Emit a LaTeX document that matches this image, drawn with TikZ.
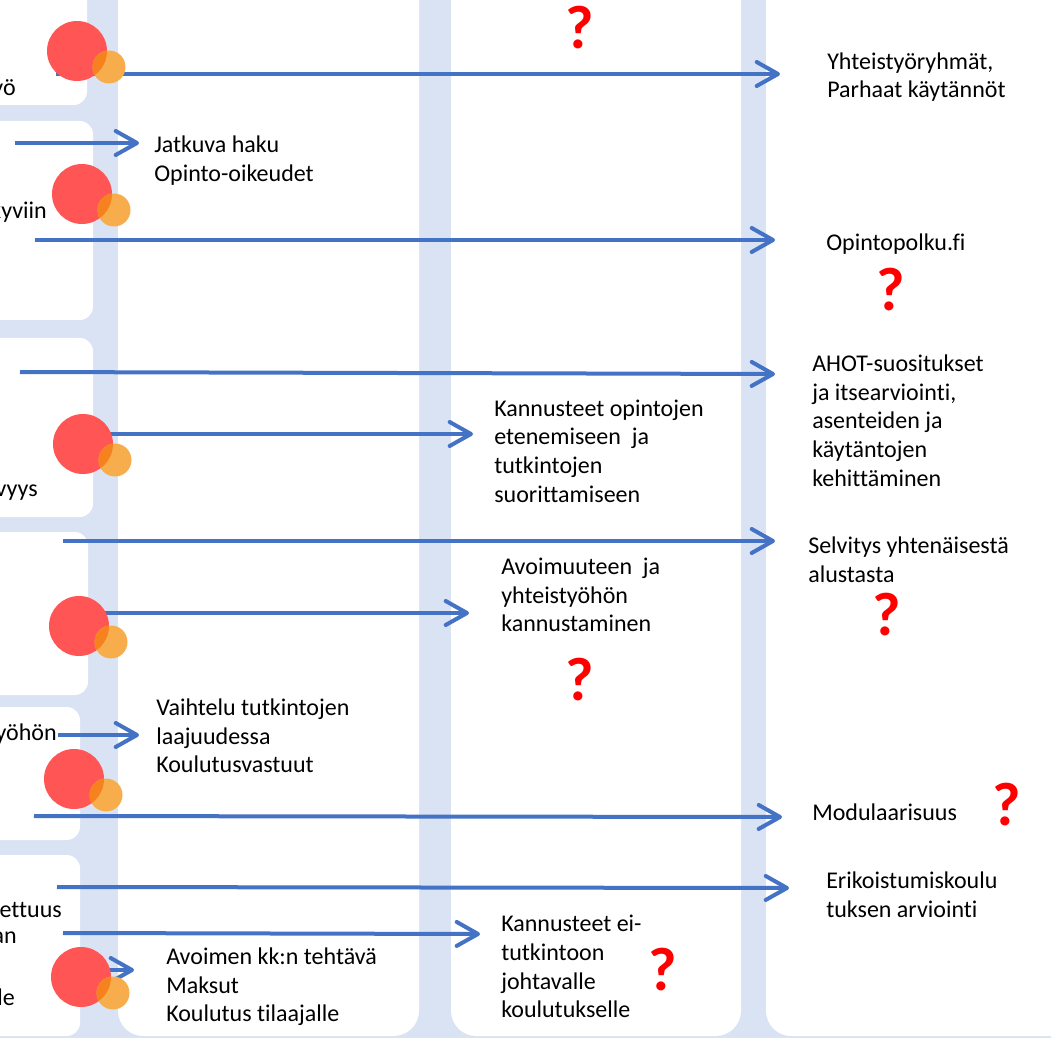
\documentclass[tikz,border=0pt]{standalone}
\usepackage{fontspec}
\setmainfont{Carlito}[Ligatures={NoCommon,NoContextual,NoRare}]
\usetikzlibrary{arrows.meta}
\definecolor{bandblue}{HTML}{DAE3F3}
\definecolor{arrblue}{HTML}{4472C4}
\definecolor{cred}{HTML}{FF5555}
\definecolor{corange}{HTML}{F7AD4C}
\definecolor{coverlap}{HTML}{F5821E}
\definecolor{qred}{HTML}{FF0000}
\begin{document}
\begin{tikzpicture}[x=0.75pt,y=-0.75pt,
  panel/.style={fill=white, rounded corners=19pt},
  lbox/.style={fill=white, rounded corners=10pt},
  arr/.style={draw=arrblue, line width=3pt, -{Straight Barb[length=16pt,width=18pt,round]}},
  lbl/.style={inner sep=0pt, anchor=west, align=left, font=\fontsize{18}{21.5}\selectfont},
  cut/.style={inner sep=0pt, anchor=east, font=\fontsize{18}{21.5}\selectfont},
  qm/.style={inner sep=0pt, text=qred, font=\fontsize{46}{46}\selectfont\bfseries},
  bigc/.style={circle, fill=cred, minimum size=45pt, inner sep=0pt},
  smallc/.style={circle, fill=corange, minimum size=24.75pt, inner sep=0pt},
]
\useasboundingbox (0,0) rectangle (1051,1038);
\clip (0,0) rectangle (1051,1038);
% background
\fill[bandblue] (0,0) rectangle (1051,1038);
% column panels
\fill[panel] (118,-60) rectangle (419,1036);
\fill[panel] (451,-60) rectangle (741,1036);
\fill[panel] (766,-60) rectangle (1120,1036);
% left boxes
\fill[lbox] (-60,-60) rectangle (87,105);
\fill[lbox] (-60,121) rectangle (93,320);
\fill[lbox] (-60,338) rectangle (93,517);
\fill[lbox] (-60,532) rectangle (88,695);
\fill[lbox] (-60,707) rectangle (80,840);
\fill[lbox] (-60,855) rectangle (80,1036);

% cut-off texts on the left
\node[cut] (t1) at (16,89) {yö};
\node[cut] (t2) at (47,212) {kyviin};
\node[cut] (t3) at (38,493) {vyys};
\node[cut] (t4) at (57,734) {yöhön};
\node[cut] (t5) at (62,910) {ettuus};
\node[cut] (t6) at (17,938) {an};
\node[cut] (t7) at (15,997) {le};

% arrow end points
\coordinate (a1s) at (56,74);   \coordinate (a1e) at (780,74);
\coordinate (a2s) at (15,143);  \coordinate (a2e) at (139,143);
\coordinate (a3s) at (35,240);  \coordinate (a3e) at (775,240);
\coordinate (a4s) at (20,372);  \coordinate (a4e) at (775,374);
\coordinate (a5s) at (105,434); \coordinate (a5e) at (473,434);
\coordinate (a6s) at (63,541);  \coordinate (a6e) at (775,541);
\coordinate (a7s) at (100,613); \coordinate (a7e) at (469,613);
\coordinate (a8s) at (58,735);  \coordinate (a8e) at (139,735);
\coordinate (a9s) at (34,816);  \coordinate (a9e) at (782,817);
\coordinate (a10s) at (57,887); \coordinate (a10e) at (789,888);
\coordinate (a11s) at (63,933); \coordinate (a11e) at (480,934);
\coordinate (a12s) at (105,970);\coordinate (a12e) at (134,970);

\foreach \i in {1,...,12} {\draw[arr] (a\i s) -- (a\i e);}

% circles
\foreach \n/\rx/\ry/\ox/\oy in {1/77/51/109/67, 2/82/194/114/210, 3/83/444/115/460, 4/79/626/111/642, 5/74/779/106/795, 6/81/977/113/993} {
  \node[bigc] (r\n) at (\rx,\ry) {};
  \node[smallc] (o\n) at (\ox,\oy) {};
  \begin{scope}
    \clip (r\n.center) circle [radius=22.5pt];
    \fill[coverlap] (o\n.center) circle [radius=12.375pt];
  \end{scope}
}

% column 2 texts
\node[lbl] (c2a) at (154,160.5) {Jatkuva haku\\Opinto-oikeudet};
\node[lbl] (c2b) at (156,736) {Vaihtelu tutkintojen\\laajuudessa\\Koulutusvastuut};
\node[lbl] (c2c) at (166,987) {Avoimen kk:n tehtävä\\Maksut\\Koulutus tilaajalle};

% column 3 texts
\node[lbl] (c3a) at (494,451) {Kannusteet opintojen\\etenemiseen\ \ ja\\tutkintojen\\suorittamiseen};
\node[lbl] (c3b) at (501,595) {Avoimuuteen\ \ ja\\yhteistyöhön\\kannustaminen};
\node[lbl] (c3c) at (501,966.5) {Kannusteet ei-\\tutkintoon\\johtavalle\\koulutukselle};

% column 4 texts
\node[lbl] (c4a) at (827,77) {Yhteistyöryhmät,\\Parhaat käytännöt};
\node[lbl] (c4b) at (826,244) {Opintopolku.fi};
\node[lbl] (c4c) at (812,420.5) {AHOT-suositukset\\ja itsearviointi,\\asenteiden ja\\käytäntojen\\kehittäminen};
\node[lbl] (c4d) at (808,559.5) {Selvitys yhtenäisestä\\alustasta};
\node[lbl] (c4e) at (812,812) {Modulaarisuus};
\node[lbl] (c4f) at (826,895) {Erikoistumiskoulu\\tuksen arviointi};

% question marks
\node[qm] (q1) at (580,28) {?};
\node[qm] (q2) at (891,290) {?};
\node[qm] (q3) at (887,615) {?};
\node[qm] (q4) at (580,680) {?};
\node[qm] (q5) at (1007,805) {?};
\node[qm] (q6) at (663,970) {?};
\end{tikzpicture}
\end{document}
